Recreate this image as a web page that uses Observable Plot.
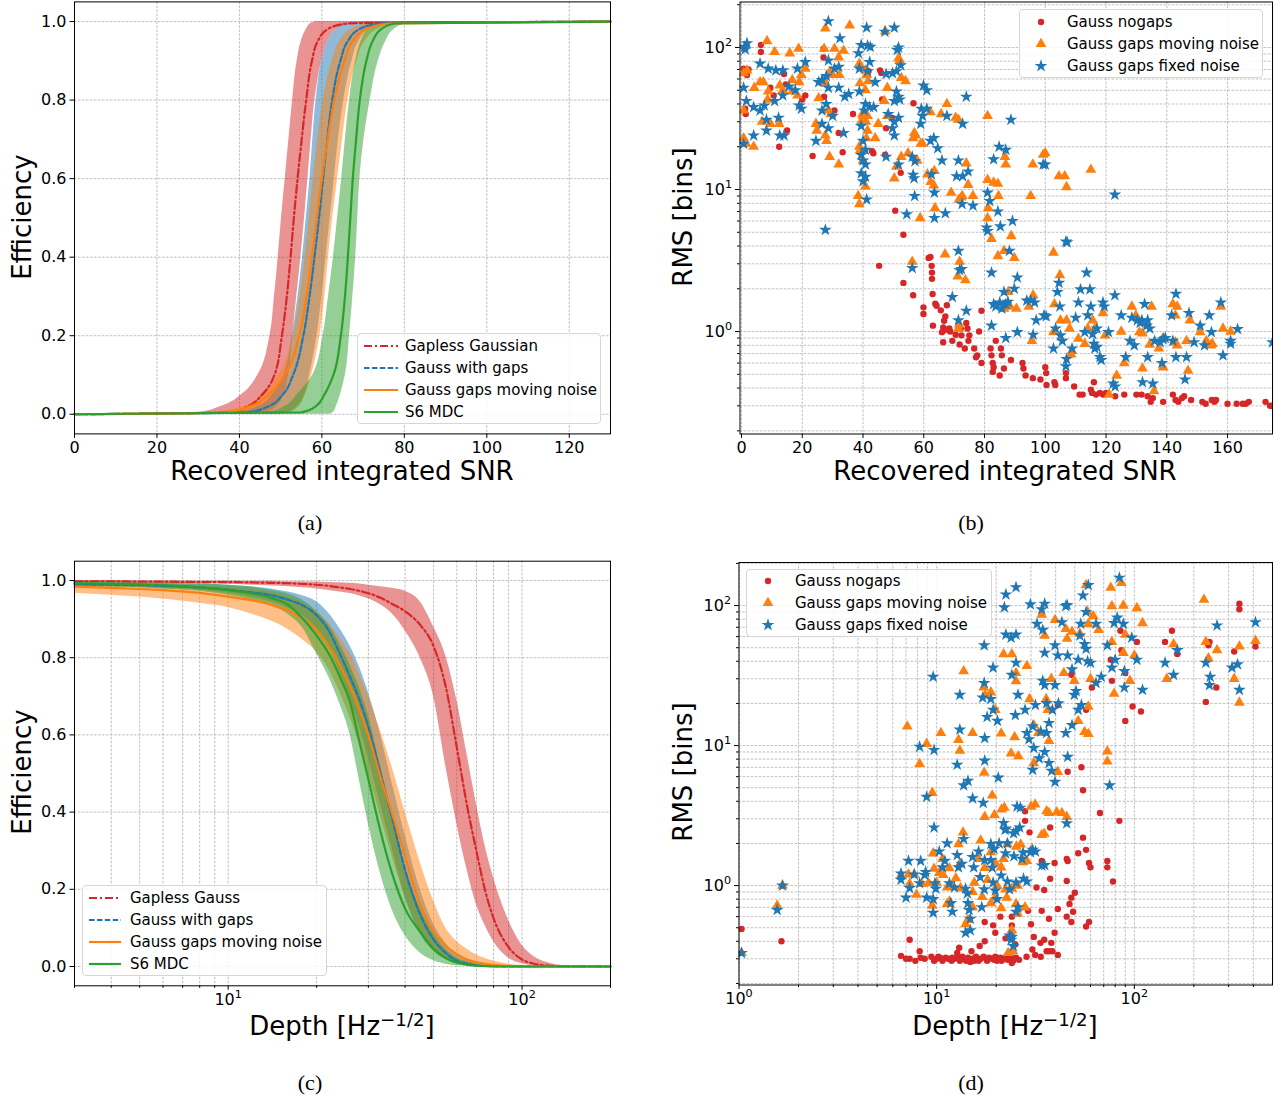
<!DOCTYPE html>
<html>
<head>
<meta charset="utf-8">
<script src="https://cdn.jsdelivr.net/npm/d3@7"></script>
<script src="https://cdn.jsdelivr.net/npm/@observablehq/plot@0.6"></script>
<style>
  body { margin: 0; background: #fff; }
  #page { position: relative; width: 1286px; height: 1104px; background: #fff; overflow: hidden;
          font-family: "DejaVu Sans", sans-serif; color: #000; }
  .title { position: absolute; font-size: 26px; white-space: nowrap; line-height: 1;
           transform: translate(-50%, -50%); }
  .title.rot { transform: translate(-50%, -50%) rotate(-90deg); }
  .title sup { font-size: 0.7em; vertical-align: 0.5em; line-height: 0; }
  .cap { position: absolute; font-family: "Liberation Serif", "DejaVu Serif", serif; font-size: 22px;
         line-height: 1; transform: translate(-50%, -50%); }
  .legend { position: absolute; box-sizing: border-box; border: 1px solid #d6d6d6; border-radius: 4px;
            background: rgba(255,255,255,0.85); font-size: 15px; }
  .legend .row { position: absolute; white-space: nowrap; line-height: 1; transform: translateY(-50%); }
  .legend svg { position: absolute; overflow: visible; }
</style>
</head>
<body>
<div id="page"></div>
<script>
// ---------------- (a) efficiency vs recovered integrated SNR ----------------
// Efficiency levels, and the SNR at which each curve (centre, left and right band edges) reaches them
const effLevels = [0, 0.005, 0.02, 0.05, 0.1, 0.2, 0.3, 0.4, 0.5, 0.6, 0.7, 0.8, 0.9, 0.95, 0.98, 0.995, 1];
const snrGaplessLo  = [0, 30, 35.5, 40.5, 44.5, 47.4, 48.5, 49.4, 50.2, 51.1, 52, 52.9, 54, 55, 56.2, 57.3, 58.5];
const snrGaplessMid = [0, 38, 42, 45.5, 48.5, 50.3, 51.5, 52.4, 53.2, 54.1, 55.1, 56.2, 57.6, 59, 61.3, 66, 130];
const snrGaplessHi  = [44, 46.5, 49, 50.8, 51.9, 52.9, 53.9, 54.9, 55.8, 56.6, 57.4, 58.3, 60, 61.5, 63.5, 68, 130];
const snrGapsLo  = [0, 38, 44.5, 48, 50.8, 52.8, 54.2, 55.3, 56.2, 57.1, 57.8, 58.6, 60, 61.5, 63.5, 67, 71];
const snrGapsMid = [0, 42, 47, 50.5, 53, 55.5, 57, 58.2, 59.3, 60.3, 61.3, 62.5, 64.5, 66.3, 69, 74, 130];
const snrGapsHi  = [50, 52, 54, 55.8, 57, 58.8, 60, 61, 62, 63, 64, 65.3, 67.3, 69, 71.5, 76, 130];
const snrMovingLo  = [0, 33, 41, 45.5, 49.5, 53, 54.7, 55.9, 56.9, 57.9, 59, 60.3, 62.5, 64.3, 67, 71.5, 76];
const snrMovingMid = [0, 37, 42.5, 47, 51, 54.5, 56.3, 57.6, 58.8, 60, 61.4, 63, 65.5, 67.5, 70.5, 76, 130];
const snrMovingHi  = [49, 52, 54.5, 56, 57.5, 59.5, 60.7, 61.6, 62.6, 63.8, 65, 66.3, 68.5, 70.5, 73.5, 78, 130];
const snrS6Lo  = [0, 47, 51, 54, 57.8, 60.3, 61.6, 62.8, 63.8, 64.8, 65.7, 66.7, 68.2, 69.5, 71.3, 74, 77];
const snrS6Mid = [0, 55, 58.5, 60.6, 62.8, 64.6, 65.6, 66.3, 66.9, 67.5, 68.3, 69.2, 70.8, 72.3, 74.3, 77.5, 130];
const snrS6Hi  = [62, 62.8, 63.5, 64.5, 65.7, 66.7, 67.5, 68.2, 68.7, 69.2, 70.2, 71.7, 73.7, 75.5, 77.5, 80.5, 130];

// ---------------- (c) efficiency vs depth ----------------
const depthGrid = [3, 4, 5, 6, 8, 10, 12, 14, 16, 18, 20, 22, 24, 26, 28, 30, 33, 36, 40, 45, 50, 55, 60, 65, 70, 75, 80, 90, 100, 110, 125, 150, 200];
const effGaplessMid = [0.998, 0.998, 0.997, 0.997, 0.996, 0.996, 0.995, 0.994, 0.993, 0.991, 0.989, 0.986, 0.982, 0.978, 0.973, 0.967, 0.955, 0.94, 0.92, 0.885, 0.83, 0.725, 0.567, 0.417, 0.298, 0.195, 0.125, 0.05, 0.018, 0.007, 0.002, 0.0005, 0];
const effGaplessLo  = [0.995, 0.995, 0.994, 0.993, 0.992, 0.99, 0.988, 0.986, 0.984, 0.981, 0.978, 0.974, 0.97, 0.966, 0.96, 0.953, 0.937, 0.915, 0.87, 0.8, 0.7, 0.52, 0.37, 0.25, 0.16, 0.105, 0.065, 0.022, 0.007, 0.002, 0.0005, 0, 0];
const effGaplessHi  = [1, 1, 0.999, 0.999, 0.999, 0.999, 0.998, 0.998, 0.997, 0.997, 0.996, 0.995, 0.994, 0.993, 0.991, 0.988, 0.984, 0.98, 0.972, 0.945, 0.88, 0.805, 0.69, 0.55, 0.42, 0.31, 0.23, 0.12, 0.055, 0.025, 0.008, 0.001, 0];
const effGapsMid = [0.99, 0.989, 0.988, 0.986, 0.982, 0.976, 0.969, 0.962, 0.95, 0.935, 0.91, 0.87, 0.81, 0.75, 0.69, 0.62, 0.5, 0.39, 0.25, 0.135, 0.07, 0.035, 0.015, 0.007, 0.003, 0.0015, 0.001, 0, 0, 0, 0, 0, 0];
const effGapsLo  = [0.985, 0.983, 0.982, 0.979, 0.975, 0.966, 0.956, 0.944, 0.928, 0.908, 0.875, 0.83, 0.76, 0.69, 0.62, 0.54, 0.42, 0.31, 0.18, 0.085, 0.04, 0.018, 0.007, 0.003, 0.001, 0, 0, 0, 0, 0, 0, 0, 0];
const effGapsHi  = [0.995, 0.994, 0.993, 0.992, 0.99, 0.988, 0.984, 0.978, 0.97, 0.96, 0.945, 0.915, 0.875, 0.83, 0.775, 0.71, 0.6, 0.48, 0.34, 0.2, 0.11, 0.06, 0.03, 0.016, 0.008, 0.004, 0.002, 0.001, 0, 0, 0, 0, 0];
const effMovingMid = [0.984, 0.981, 0.978, 0.975, 0.968, 0.958, 0.949, 0.937, 0.922, 0.9, 0.872, 0.83, 0.78, 0.725, 0.665, 0.6, 0.49, 0.4, 0.285, 0.16, 0.09, 0.053, 0.032, 0.018, 0.011, 0.007, 0.004, 0.0015, 0.0005, 0, 0, 0, 0];
const effMovingLo  = [0.967, 0.962, 0.957, 0.952, 0.941, 0.93, 0.913, 0.895, 0.873, 0.845, 0.815, 0.77, 0.71, 0.645, 0.575, 0.5, 0.39, 0.29, 0.18, 0.09, 0.045, 0.022, 0.01, 0.005, 0.002, 0.001, 0, 0, 0, 0, 0, 0, 0];
const effMovingHi  = [0.992, 0.991, 0.99, 0.989, 0.985, 0.982, 0.977, 0.969, 0.958, 0.943, 0.92, 0.89, 0.85, 0.81, 0.755, 0.7, 0.61, 0.52, 0.4, 0.27, 0.17, 0.1, 0.065, 0.045, 0.03, 0.021, 0.014, 0.006, 0.003, 0.001, 0, 0, 0];
const effS6Mid = [0.993, 0.992, 0.99, 0.988, 0.982, 0.975, 0.967, 0.955, 0.937, 0.9, 0.857, 0.81, 0.75, 0.685, 0.58, 0.485, 0.35, 0.245, 0.15, 0.09, 0.045, 0.022, 0.01, 0.005, 0.002, 0.001, 0, 0, 0, 0, 0, 0, 0];
const effS6Lo  = [0.985, 0.983, 0.981, 0.978, 0.972, 0.962, 0.95, 0.935, 0.912, 0.875, 0.81, 0.75, 0.68, 0.6, 0.48, 0.37, 0.24, 0.15, 0.08, 0.035, 0.015, 0.006, 0.002, 0.001, 0, 0, 0, 0, 0, 0, 0, 0, 0];
const effS6Hi  = [0.997, 0.996, 0.996, 0.995, 0.992, 0.988, 0.983, 0.975, 0.965, 0.948, 0.92, 0.885, 0.835, 0.78, 0.72, 0.65, 0.52, 0.4, 0.26, 0.15, 0.085, 0.045, 0.022, 0.012, 0.006, 0.003, 0.001, 0, 0, 0, 0, 0, 0];

// ---------------- (b) RMS vs recovered integrated SNR, [snr, rms] ----------------
const snrRmsNogaps = [[6.4,104],[6.4,93],[0.7,71],[2.3,70],[1.8,64],[1.4,34],[1.2,37],[9.5,52],[10.6,46],[14,65],[14.6,55],[15,26],[12.4,20],[20,43],[21,46],[27,98],[27.2,45],[27,85],[30.6,36],[32,25],[33.3,18.3],[23.4,17.2],[36.7,34],[41.8,68],[45.6,69],[46.3,43],[46,66],[43,18.6],[43.4,18],[47.3,17.6],[47.6,27],[49.4,32],[50.6,7.1],[52.4,13.1],[53.3,4.8],[56.6,40.5],[53.3,2.2],[45.3,2.9],[56.5,1.8],[61.6,3.3],[62.2,3.35],[62.6,2.9],[62.7,2.6],[62.7,2.35],[62.9,1.84],[59.9,1.48],[59.9,1.33],[63,1.1],[63.8,1.57],[64.2,1.52],[65.6,1.41],[66.7,1.19],[67.1,1.28],[67.6,1.53],[66.4,1.07],[67.3,1.03],[68.4,1.05],[68.7,1.0],[66,0.99],[66.4,0.84],[69.4,0.86],[70.5,0.95],[71.8,0.81],[72.2,1.05],[72.4,0.94],[73.5,0.76],[74,1.15],[74.4,1.05],[75,0.94],[74.7,0.86],[76.6,0.76],[77.6,0.68],[77.2,0.66],[79,0.6],[78.2,1.0],[79,1.4],[82,0.76],[82.3,0.68],[82.7,0.6],[83,0.56],[82.7,0.52],[83.7,0.86],[85.4,0.76],[85.7,0.68],[85,0.49],[86.4,0.55],[88.7,0.63],[92.5,0.6],[92.8,0.55],[93.5,0.49],[95.9,0.47],[98.4,0.46],[100,0.56],[100.3,0.51],[100.4,0.42],[103,0.44],[103.3,0.42],[106.8,0.51],[106.8,0.47],[109.5,0.41],[111.3,0.36],[112.3,0.36],[115,0.39],[115.4,0.37],[116,0.44],[116.7,0.36],[118,0.37],[119,0.36],[120,0.37],[123,0.35],[126,0.36],[130,0.36],[131.7,0.36],[133.7,0.35],[134.7,0.32],[135.4,0.34],[138.8,0.32],[142,0.36],[142.9,0.33],[143.8,0.32],[145,0.34],[145.7,0.35],[148,0.33],[151.7,0.32],[152.8,0.31],[154.8,0.33],[155.7,0.32],[156.2,0.33],[160,0.31],[163,0.31],[165,0.31],[166,0.31],[167,0.32],[172.5,0.32],[174,0.3],[174.6,0.3]];
const snrRmsMoving = [[8.4,111],[10.9,93],[15.9,91],[18.8,98],[0.7,66],[1.8,69],[4.2,52],[6.1,57],[7.2,57],[8.8,49],[8.6,43],[0.7,36],[0.7,23],[4,20],[1.5,21],[6.8,30],[9.5,29],[12.4,29],[12.6,54],[13.6,50],[16.7,59],[19,57],[19.7,64],[18.4,46],[16.7,49],[21,71],[25.4,44],[24.5,29],[24.8,26],[28,22],[29,17],[32,15],[27.2,98],[27.6,136],[30.6,98],[35.6,143],[33.6,95],[32,85],[29,67],[30,64],[32.2,64],[27.2,56],[27.2,59],[28.6,36],[29.5,34],[27.6,24],[38.8,77],[39,56],[40.8,69],[41.2,64],[41.7,58],[40.8,50],[39.8,34],[40,33],[41.5,33],[39.4,30],[41,30],[41.5,26],[41.1,23],[44,23],[45,29],[38.8,20],[39.1,19],[40,16],[38.4,9],[38.8,7.9],[40.8,10.5],[48,52],[47,42],[48,33],[47.3,130],[51.7,84],[52.1,81],[52.6,61],[54,58],[51,14.5],[50.3,12],[52.6,17],[56.9,25],[57.3,24],[56.5,23],[59,21],[59.6,21],[54.8,18],[57.8,16],[58.8,6.3],[62.2,35],[65.7,34],[67.6,40],[61.2,12.8],[62.3,11.3],[63.5,13.5],[63.3,10.7],[63.7,7.4],[69,9.5],[70.5,32],[71.4,31],[71.6,8.5],[72.3,8.8],[72.7,9],[74,15.3],[74.6,10.8],[76.2,9],[81,33],[81,11.7],[83,11.2],[84.4,11],[81.2,7.4],[81,6.3],[84.6,9],[82.3,4.5],[84.4,3.4],[86.4,3.7],[88.8,4.7],[89.8,3.3],[86.7,17],[87,15],[56.2,3.1],[67,3.5],[71.8,3.1],[71.2,2.45],[73.7,2.3],[71.4,1.05],[71.7,1.12],[95.9,15],[95.2,9],[99.3,17.6],[100,18],[104.5,12.4],[106.4,12.4],[107,10.4],[115,13.8],[102.7,3.6],[104.8,2.5],[87.8,1.9],[86.4,1.45],[88.4,1.5],[90.5,1.45],[94.6,1.5],[96,1.8],[95.6,0.86],[102.7,0.99],[103,1.56],[105,1.2],[107,1.2],[108,1.05],[110.9,0.89],[113,0.82],[114,1.05],[115.6,1.2],[116.3,1.05],[119,1.35],[108.8,0.73],[108.5,0.69],[119.7,0.94],[121,0.36],[123.5,0.49],[125,1.0],[126,0.6],[128.5,1.5],[129.8,1.3],[131,0.99],[132,0.97],[134.4,0.81],[135,1.5],[132,0.55],[135.8,0.38],[137.4,0.76],[138.8,0.56],[142,1.56],[143.4,1.5],[142.8,0.84],[143.4,0.8],[146.5,0.86],[147,0.53],[147.6,1.2],[151,0.99],[153,0.86],[154.5,0.8],[155,0.82],[157.8,1.5],[158.5,1.05],[161,1.0],[142.8,1.3],[138.8,0.9]];
const snrRmsFixed = [[1,101],[1.8,107],[0.7,52],[0.7,21],[1.2,97],[6.1,77],[8.8,71],[11.3,69],[13.6,69],[1.6,42],[4,38],[6.1,36],[7.5,39],[8.2,31],[10.9,42],[4,24],[8.2,26],[12.2,32],[12.6,24],[14,24],[15.6,53],[17.7,50],[13.6,46],[18.4,71],[21,79],[19,39],[19.7,37],[25.4,57],[26.5,59],[28.6,52],[27.9,63],[24.5,22],[26.5,36],[27.9,40],[26.5,29],[28.6,27],[30,33],[28.6,153],[32.4,116],[32,73],[30.6,71],[28.6,81],[27.6,5.2],[32,52],[34,45],[35.3,47],[33.6,25],[38.5,91],[39.4,104],[41.2,138],[41.5,103],[42.4,101],[38.8,71],[42.2,79],[41.5,68],[44,57],[38.8,49],[40.8,40],[40.4,36],[42.2,38],[43.5,38],[39.4,28],[40,22],[40.8,19],[40,16],[40.8,15],[39.4,13],[40.8,12.3],[40,11.4],[41.2,8.5],[39.4,17.5],[47.2,129],[50.3,138],[51.3,96],[51.7,100],[47.6,65],[49.7,66],[51,68],[52.4,75],[51,49],[51.7,45],[52.1,43],[50.3,42],[48.3,34],[51.7,32],[50.3,30],[49.7,27],[50.3,24],[47.6,17],[51.7,15],[56.2,17],[57.1,15.8],[56.5,12.7],[56.8,12],[57,9],[54.4,6.7],[56.2,2.8],[59.9,54],[61,50],[59.2,37],[61,37],[59,29],[59.6,33],[62.2,22],[63.3,23],[64.6,19.5],[66,16],[62.5,12.8],[63.5,9.5],[63.5,6.3],[67.1,6.8],[67.6,33],[72.8,29],[71.4,16],[72.8,12.4],[74.6,13.4],[70.8,12.4],[72.6,7.9],[76.2,7.7],[74,45],[71.4,3.7],[71.8,2.7],[72.4,2.75],[71.4,1.2],[69.4,1.75],[74,1.4],[83,16.3],[84.8,20],[87,19],[81,9.5],[81.7,8.3],[84.4,7],[80.7,5.4],[81,5.1],[85.2,5.5],[89.2,6],[88.7,31],[82.3,2.6],[88.2,3.7],[90.8,2.4],[89.8,2.0],[83,1.56],[85,1.6],[86.4,1.9],[87,1.56],[87.7,1.62],[85.7,1.45],[82.3,1.1],[83.7,1.5],[87,0.9],[90.8,0.99],[93.9,1.65],[95.2,1.66],[96.5,1.6],[96,0.95],[97,1.2],[99.6,1.3],[100.3,1.28],[99.3,15],[100,15],[102.7,0.76],[103.4,1.05],[104,1.9],[104.8,1.5],[104.5,2.2],[106.8,4.3],[107.2,4.25],[106.8,0.57],[107,0.64],[105,0.94],[105.6,0.86],[108.8,0.76],[110,1.25],[110.9,1.6],[111.6,1.98],[113.6,2.6],[114.7,1.98],[113,0.99],[114,1.3],[115,1.5],[115.6,0.96],[116,0.82],[116.3,0.76],[117,0.78],[118,0.66],[118.4,0.63],[117,1.05],[119,1.6],[119.4,1.5],[120.8,0.99],[122.9,1.8],[122.9,9.2],[122.4,0.43],[123,0.41],[125,1.3],[126.5,0.66],[127.9,0.86],[128.5,1.25],[129.3,0.8],[130.3,1.2],[131.2,1.15],[131.8,1.2],[132.7,1.56],[133.4,1.1],[133.7,1.2],[134.4,1.05],[132,0.44],[133.7,0.66],[135.4,0.43],[136,0.86],[137.8,0.84],[138.8,0.88],[139.5,0.9],[138.4,0.6],[141.6,1.3],[143,1.84],[142,0.86],[143,0.66],[146.5,0.66],[146,0.46],[147.3,1.35],[149,0.84],[151,1.1],[152.4,0.8],[154,1.3],[154.7,0.99],[157.8,1.6],[158.5,0.68],[161,0.86],[161,0.82],[163.3,1.04],[174.8,0.84]];

// ---------------- (d) RMS vs depth, [depth, rms] ----------------
const depthRmsNogaps = [[1.03,0.49],[1.64,0.4],[340,103],[340,94],[410,51],[320,47],[240,55],[237,52],[260,26],[230,20.5],[155,66],[143,55],[165,45],[103,55],[90,33],[98,19],[108,17.5],[90,15],[86,48],[77,29],[76,41],[85,66],[61,26],[57,18],[48,32],[41,19.5],[38,18],[46,6.5],[54,7],[55,4.8],[67,3.3],[84,2.9],[37.5,2.6],[29.5,2.4],[28,3.4],[28,2.9],[55,2.2],[57,1.8],[52,1.7],[59,1.45],[60,1.35],[73,1.5],[73,1.35],[78,1.07],[45.5,1.55],[46,1.5],[39.5,1.45],[34,1.5],[37.5,1.12],[45.5,1.08],[32,0.97],[35,0.93],[50,0.89],[48,0.82],[47,0.74],[49,0.65],[45.5,0.6],[48,0.55],[57,0.51],[59,0.55],[41,0.68],[37,0.58],[34,0.66],[30,0.53],[29,0.66],[24,0.6],[39.5,0.46],[35,0.41],[38,0.39],[38.5,0.34],[41,0.32],[31,0.43],[33.5,0.39],[30.5,0.35],[36,0.34],[21,0.6],[24,0.52],[24,0.43],[25,0.38],[17.5,0.55],[19.3,0.52],[19.8,0.46],[17.5,0.4],[16.5,0.37],[15,0.34],[13,0.36],[12.7,0.33],[7.3,0.41],[8.2,0.34],[22.3,0.42],[6.6,0.315],[7,0.3],[7.3,0.3],[7.8,0.29],[8.3,0.305],[8.7,0.3],[9.4,0.31],[9.7,0.29],[10,0.3],[10.4,0.305],[10.7,0.29],[11.1,0.305],[11.4,0.3],[11.9,0.29],[12.3,0.3],[12.8,0.31],[13.1,0.29],[13.6,0.3],[14.1,0.29],[14.4,0.305],[14.8,0.285],[15.2,0.3],[15.8,0.31],[16.3,0.29],[16.7,0.3],[17.3,0.31],[17.9,0.295],[18.4,0.305],[19.1,0.3],[19.8,0.31],[20.2,0.29],[21,0.305],[21.7,0.3],[22.5,0.31],[23.4,0.3],[24.4,0.29],[25.2,0.305],[26.1,0.295],[24,0.28],[28.5,0.31],[31.5,0.32],[33.6,0.31],[37,0.34],[13.5,0.31],[14.6,0.295],[15.5,0.29],[18,0.29],[19.5,0.295],[21.3,0.29],[22.9,0.295],[12,0.305],[10.2,0.31],[16,0.3],[20.6,0.3],[23.8,0.31]];
const depthRmsMoving = [[1.03,0.33],[1.56,0.72],[1.66,1.0],[7.1,13.7],[8.9,10.3],[10.5,12.3],[8.2,7.4],[9.5,4.6],[12.9,11],[13.1,9.2],[13.7,34],[15.2,12.3],[17.3,26],[17.6,23],[17.4,6.4],[17.5,3.1],[18.8,24],[19.1,4.4],[19.8,18],[19.6,3.2],[21.2,12.2],[21.8,45],[24,45],[23.8,8.8],[25.2,33],[25.2,28.8],[25.9,8.4],[24.8,11.5],[22,3.6],[28.6,37],[29.5,21.5],[31,14],[31,7.5],[31.5,3.8],[32.7,12.3],[34,86],[35.2,61],[35.8,21.5],[36.5,18],[37,10.8],[38,30],[35,2.35],[37,3.3],[39.7,79],[41,6.5],[43,3.3],[44,33],[45,68],[45.7,58],[48.4,65],[49.7,29],[52,15],[53,63],[57,140],[58,90],[58.5,74],[60,30],[58.5,19],[56,12.5],[58.5,12.1],[62,84],[66,67],[73,9.1],[73,7.7],[76,134],[77,99],[77,55],[79,23.5],[86,145],[88,100],[90,62],[88,46],[95,29],[103,96],[110,75],[100,44],[146,30],[158,53],[225,110],[237,42],[230,55],[262,48],[320,30],[340,51],[340,20.3],[410,56],[6.6,1.18],[7.2,1.2],[7.3,1.03],[7.9,0.86],[8.4,1.03],[9.6,1.7],[9.7,1.32],[10.3,1.23],[10,1.05],[10.7,1.55],[10.8,1.19],[11.6,0.77],[11.3,0.97],[11.9,0.98],[12.5,1.13],[13.1,1.43],[13.2,0.96],[12.9,1.98],[13.6,2.4],[14,0.53],[14.4,0.57],[15.2,0.9],[15.5,1.05],[16.3,1.55],[16.7,2.1],[17,0.83],[17.5,1.34],[18.1,1.1],[18.8,1.73],[18.8,0.75],[19.8,0.82],[19.8,1.45],[20.2,1.0],[21.2,0.69],[21.2,1.35],[21.8,1.55],[22.8,1.98],[22.3,0.94],[24,0.95],[24,0.48],[24.3,0.34],[25.2,0.74],[25.7,1.0],[26.6,1.97],[28.6,1.5],[30.2,1.8],[25.7,0.63],[28,0.7],[11.3,0.74],[15.2,0.7],[9.1,1.04],[9.5,0.72],[7.7,1.2],[11.6,1.33],[30,3.67],[36,3.4],[40.5,3.34],[45.5,3.1],[34,2.3],[21.3,3.5],[25.3,1.9],[27.4,1.47],[22.6,0.82],[23,0.33]];
const depthRmsFixed = [[1.03,0.33],[1.56,0.67],[1.66,1.0],[9.6,31],[8.2,9.8],[9.7,9.3],[8.9,4.3],[9.7,2.6],[12.7,7.3],[13.1,23],[13.1,13],[13.7,5.2],[14.4,5.6],[15.2,4.2],[17.2,3.9],[17.4,52],[17.4,28],[17.1,22],[18,16],[17.5,11.3],[17.5,7.8],[18.8,21.5],[19.3,36],[19.3,18],[20.3,15],[20.5,5.9],[22,97],[22.4,120],[22.4,62],[23.8,59],[24,32],[25.2,39],[25.2,62],[25.2,135],[25.8,23],[25,16.5],[28,18],[28.6,12.3],[29.3,11.1],[29.8,102],[30.6,13.7],[31,9.6],[30.6,6.7],[31.6,19.5],[32.2,74],[33,8.1],[33.6,12.6],[34,94],[34.4,67],[34.4,29],[35.2,27],[35.2,46],[35.2,103],[36,20],[37,14.5],[36,12.3],[37,7.5],[35.2,9],[39.7,52],[39.7,27],[41,44],[38.5,18],[41.3,20],[39.7,5.5],[38.2,6.6],[43,76],[45,99],[45.7,101],[46,44],[45,12.3],[46,8.3],[48.4,35],[49.7,23],[50.7,24.5],[48.4,14],[52,41],[53,61],[53.6,74],[55,118],[57,90],[56,53],[57,49],[58,40],[60,39],[52,18],[54,19.5],[58.5,140],[64,74],[64,28],[68,31],[73,52],[75,5.2],[77,36],[79,75],[80,41],[82,82],[84,158],[88,74],[89,26],[89,34],[97,59],[103,41],[110,25],[143,39],[158,32],[165,48],[230,39],[240,27],[242,31],[262,72],[312,36],[333,38],[340,25],[410,76],[6.6,1.22],[6.6,1.1],[7.2,1.5],[7.3,0.96],[7,0.82],[7.7,1.2],[8.3,1.5],[8.2,1.04],[8.7,1.19],[8.8,1.25],[8.9,0.82],[9.6,0.8],[9.6,0.64],[9.8,1.04],[9.9,0.95],[10.3,1.75],[10.7,1.35],[11,1.5],[11.3,2.0],[11.6,1.04],[11.8,0.75],[12,0.65],[12.3,0.97],[12.7,1.65],[12.9,1.35],[13.4,1.43],[13.7,2.15],[14,0.95],[14.3,0.88],[14.4,0.75],[14.6,0.67],[14.8,0.58],[14,0.46],[14.8,0.48],[15.2,1.6],[15.4,1.35],[16.3,1.75],[16.6,1.15],[16.9,0.7],[17.4,0.94],[17.5,1.52],[18.8,1.98],[18.8,1.52],[19.1,1.34],[19.3,1.05],[19.8,0.92],[20.2,0.8],[19.5,1.82],[20.7,2.0],[21.2,1.18],[21.8,2.8],[22.3,1.7],[22.8,1.07],[22.8,2.0],[23.4,0.94],[23.4,0.44],[23.8,0.41],[24,0.43],[24.4,0.37],[24.6,1.62],[25.2,2.45],[25.2,1.05],[25.2,0.65],[25.8,0.7],[26.3,2.6],[27,1.55],[27.4,1.72],[28.6,1.07],[30.6,1.8],[31.6,1.75],[35.2,1.4],[26.5,3.6],[22.4,2.55],[25.5,3.67],[45.5,2.78],[22.2,2.5],[24.5,2.36],[29.8,1.73],[34,1.39],[27.5,1.12]];

// ---------------- ticks ----------------
const snrTicksA = [0, 20, 40, 60, 80, 100, 120];
const snrTicksB = [0, 20, 40, 60, 80, 100, 120, 140, 160];
const effTicks = [0, 0.2, 0.4, 0.6, 0.8, 1.0];
const decadesRms = [1, 10, 100];
const minorRms = [0.2, 0.3, 0.4, 0.5, 0.6, 0.7, 0.8, 0.9, 2, 3, 4, 5, 6, 7, 8, 9, 20, 30, 40, 50, 60, 70, 80, 90, 200];
const decadesDepthC = [10, 100];
const minorDepthC = [3, 4, 5, 6, 7, 8, 9, 20, 30, 40, 50, 60, 70, 80, 90, 200];
const decadesDepthD = [1, 10, 100];
const minorDepthD = [2, 3, 4, 5, 6, 7, 8, 9, 20, 30, 40, 50, 60, 70, 80, 90, 200, 300, 400];

// ---------------- drawing ----------------
const page = document.getElementById("page");
const NS = "http://www.w3.org/2000/svg";
const C = {red: "#d62728", blue: "#1f77b4", orange: "#ff7f0e", green: "#2ca02c"};
const DASHDOT = "8,3,2,3", DASHED = "5.5,2.4";
const R = {circle: 3.2, triangle: 4.0, star: 4.0};
const gridStyle = {stroke: "#b0b0b0", strokeOpacity: 1, strokeWidth: 0.8, strokeDasharray: "2.6,1.4"};
const SUP = ["\u2070", "\u00b9", "\u00b2"];
const logFmt = d => "10" + SUP[Math.round(Math.log10(d))];
const blank = () => "";

function axisMarks({xMajor, xMinor, xFmt, yMajor, yMinor, yFmt}) {
  const common = {fontSize: 16, label: null, stroke: "#000", strokeWidth: 1, fill: "#000"};
  const m = [
    Plot.axisX(xMajor, {anchor: "bottom", tickSize: 4.5, tickPadding: 3.5, tickFormat: xFmt, ...common}),
    Plot.axisY(yMajor, {anchor: "left", tickSize: 4.5, tickPadding: 3.5, tickFormat: yFmt, ...common})
  ];
  if (xMinor) m.push(Plot.axisX(xMinor, {anchor: "bottom", tickSize: 2.5, tickFormat: blank, ...common}));
  if (yMinor) m.push(Plot.axisY(yMinor, {anchor: "left", tickSize: 2.5, tickFormat: blank, ...common}));
  return m;
}

// Power-of-ten tick labels: set the exponent as a raised, smaller tspan
function raiseExponents(svg) {
  svg.querySelectorAll("text").forEach(t => {
    const m = t.textContent.match(/^10([\u2070\u00b9\u00b2])$/);
    if (!m) return;
    t.textContent = "10";
    const ts = document.createElementNS(NS, "tspan");
    ts.setAttribute("dy", "-0.62em");
    ts.style.fontSize = "70%";
    ts.textContent = String(SUP.indexOf(m[1]));
    t.appendChild(ts);
  });
}

function place(el, left, top) {
  el.style.position = "absolute";
  el.style.left = left + "px";
  el.style.top = top + "px";
  page.appendChild(el);
  return el;
}

function makePlot(o) {
  const svg = Plot.plot({
    width: o.width, height: o.height,
    marginLeft: o.ml, marginRight: o.mr, marginTop: o.mt, marginBottom: o.mb,
    x: {type: o.xType, domain: o.xDomain, label: null},
    y: {type: o.yType, domain: o.yDomain, label: null},
    style: {fontFamily: "DejaVu Sans", fontSize: "16px", background: "transparent", overflow: "visible", color: "#000"},
    marks: [
      Plot.gridX(o.xGrid, gridStyle),
      Plot.gridY(o.yGrid, gridStyle),
      ...o.marks,
      Plot.frame({stroke: "#000", strokeWidth: 1}),
      ...axisMarks(o.axes)
    ]
  });
  raiseExponents(svg);
  return place(svg, o.left, o.top);
}

const pts = arr => arr.map(([x, y]) => ({x, y}));
const scatterMarks = (nogaps, moving, fixed) => [
  Plot.dot(pts(nogaps), {x: "x", y: "y", r: R.circle, fill: C.red, stroke: "none", clip: true}),
  Plot.dot(pts(moving), {x: "x", y: "y", r: R.triangle, symbol: "triangle", fill: C.orange, stroke: "none", clip: true}),
  Plot.dot(pts(fixed), {x: "x", y: "y", r: R.star, symbol: "star", fill: C.blue, stroke: "none", clip: true})
];

// (a) efficiency vs SNR
const seriesA = [
  {color: C.red, dash: DASHDOT, lo: snrGaplessLo, mid: snrGaplessMid, hi: snrGaplessHi},
  {color: C.blue, dash: DASHED, lo: snrGapsLo, mid: snrGapsMid, hi: snrGapsHi},
  {color: C.orange, dash: null, lo: snrMovingLo, mid: snrMovingMid, hi: snrMovingHi},
  {color: C.green, dash: null, lo: snrS6Lo, mid: snrS6Mid, hi: snrS6Hi}
].map(s => ({...s, rows: effLevels.map((e, i) => ({eff: e, lo: s.lo[i], mid: s.mid[i], hi: s.hi[i]}))}));

makePlot({
  left: 0, top: 0, width: 640, height: 500, ml: 74, mr: 30, mt: 1.4, mb: 66.6,
  xType: "linear", xDomain: [0, 130], yType: "linear", yDomain: [-0.05, 1.05],
  xGrid: snrTicksA, yGrid: effTicks,
  marks: [
    ...seriesA.map(s => Plot.areaX(s.rows, {y: "eff", x1: "lo", x2: "hi", fill: s.color, fillOpacity: 0.5, curve: "monotone-y"})),
    ...seriesA.map(s => Plot.line(s.rows, {x: "mid", y: "eff", stroke: s.color, strokeWidth: 2.2, strokeDasharray: s.dash, curve: "monotone-y"}))
  ],
  axes: {xMajor: snrTicksA, xFmt: d => String(d), yMajor: effTicks, yFmt: d => d.toFixed(1)}
});

// (b) RMS vs SNR
makePlot({
  left: 640, top: 0, width: 646, height: 500, ml: 99.5, mr: 14, mt: 1.5, mb: 66.5,
  xType: "linear", xDomain: [-0.5, 174.8], yType: "log", yDomain: [0.19, 209],
  xGrid: snrTicksB, yGrid: [...decadesRms, ...minorRms],
  marks: scatterMarks(snrRmsNogaps, snrRmsMoving, snrRmsFixed),
  axes: {xMajor: snrTicksB, xFmt: d => String(d), yMajor: decadesRms, yMinor: minorRms, yFmt: logFmt}
});

// (c) efficiency vs depth
const seriesC = [
  {color: C.red, dash: DASHDOT, lo: effGaplessLo, mid: effGaplessMid, hi: effGaplessHi},
  {color: C.blue, dash: DASHED, lo: effGapsLo, mid: effGapsMid, hi: effGapsHi},
  {color: C.orange, dash: null, lo: effMovingLo, mid: effMovingMid, hi: effMovingHi},
  {color: C.green, dash: null, lo: effS6Lo, mid: effS6Mid, hi: effS6Hi}
].map(s => ({...s, rows: depthGrid.map((d, i) => ({d, lo: s.lo[i], mid: s.mid[i], hi: s.hi[i]}))}));

makePlot({
  left: 0, top: 550, width: 640, height: 500, ml: 74, mr: 30, mt: 10.7, mb: 64.7,
  xType: "log", xDomain: [3, 200], yType: "linear", yDomain: [-0.05, 1.05],
  xGrid: [...decadesDepthC, ...minorDepthC], yGrid: effTicks,
  marks: [
    ...seriesC.map(s => Plot.areaY(s.rows, {x: "d", y1: "lo", y2: "hi", fill: s.color, fillOpacity: 0.5, curve: "monotone-x"})),
    ...seriesC.map(s => Plot.line(s.rows, {x: "d", y: "mid", stroke: s.color, strokeWidth: 2.2, strokeDasharray: s.dash, curve: "monotone-x"}))
  ],
  axes: {xMajor: decadesDepthC, xMinor: minorDepthC, xFmt: logFmt, yMajor: effTicks, yFmt: d => d.toFixed(1)}
});

// (d) RMS vs depth
makePlot({
  left: 640, top: 550, width: 646, height: 500, ml: 98.5, mr: 14, mt: 12, mb: 65.5,
  xType: "log", xDomain: [1, 500], yType: "log", yDomain: [0.195, 203],
  xGrid: [...decadesDepthD, ...minorDepthD], yGrid: [...decadesRms, ...minorRms],
  marks: scatterMarks(depthRmsNogaps, depthRmsMoving, depthRmsFixed),
  axes: {xMajor: decadesDepthD, xMinor: minorDepthD, xFmt: logFmt, yMajor: decadesRms, yMinor: minorRms, yFmt: logFmt}
});

// ---------------- titles, captions, legends ----------------
function html(cls, x, y, content) {
  const d = document.createElement("div");
  d.className = cls;
  d.innerHTML = content;
  d.style.left = x + "px";
  d.style.top = y + "px";
  page.appendChild(d);
}
html("title rot", 22, 217, "Efficiency");
html("title", 342, 471, "Recovered integrated SNR");
html("title rot", 683, 217, "RMS [bins]");
html("title", 1005, 471, "Recovered integrated SNR");
html("title rot", 22, 772, "Efficiency");
html("title", 342, 1026, "Depth [Hz<sup>\u22121/2</sup>]");
html("title rot", 683, 772, "RMS [bins]");
html("title", 1005, 1026, "Depth [Hz<sup>\u22121/2</sup>]");
html("cap", 310, 523, "(a)");
html("cap", 971, 523, "(b)");
html("cap", 310, 1083, "(c)");
html("cap", 971, 1083, "(d)");

function legend(box, entries, opts) {
  const L = document.createElement("div");
  L.className = "legend";
  Object.assign(L.style, {left: box[0] + "px", top: box[1] + "px", width: box[2] + "px", height: box[3] + "px"});
  entries.forEach((e, i) => {
    const cy = opts.first + i * opts.step;
    const svg = document.createElementNS(NS, "svg");
    svg.setAttribute("width", 1); svg.setAttribute("height", 1);
    svg.style.left = "0px"; svg.style.top = cy + "px";
    if (e.kind === "line") {
      const ln = document.createElementNS(NS, "line");
      ln.setAttribute("x1", opts.x0); ln.setAttribute("x2", opts.x1);
      ln.setAttribute("y1", 0); ln.setAttribute("y2", 0);
      ln.setAttribute("stroke", e.color); ln.setAttribute("stroke-width", 2.2);
      if (e.dash) ln.setAttribute("stroke-dasharray", e.dash);
      svg.appendChild(ln);
    } else {
      const p = document.createElementNS(NS, "path");
      const type = {circle: d3.symbolCircle, triangle: d3.symbolTriangle, star: d3.symbolStar}[e.kind];
      p.setAttribute("d", d3.symbol(type, Math.PI * R[e.kind] * R[e.kind])());
      p.setAttribute("transform", `translate(${opts.mx},0)`);
      p.setAttribute("fill", e.color);
      svg.appendChild(p);
    }
    L.appendChild(svg);
    const t = document.createElement("div");
    t.className = "row";
    t.textContent = e.label;
    t.style.left = opts.tx + "px";
    t.style.top = cy + "px";
    L.appendChild(t);
  });
  page.appendChild(L);
}
const lineEntries = names => [
  {kind: "line", color: C.red, dash: DASHDOT, label: names[0]},
  {kind: "line", color: C.blue, dash: DASHED, label: names[1]},
  {kind: "line", color: C.orange, label: names[2]},
  {kind: "line", color: C.green, label: names[3]}
];
const markerEntries = [
  {kind: "circle", color: C.red, label: "Gauss nogaps"},
  {kind: "triangle", color: C.orange, label: "Gauss gaps moving noise"},
  {kind: "star", color: C.blue, label: "Gauss gaps fixed noise"}
];
legend([357, 333, 244, 91], lineEntries(["Gapless Gaussian", "Gauss with gaps", "Gauss gaps moving noise", "S6 MDC"]),
       {first: 12, step: 22, x0: 6, x1: 40, tx: 47});
legend([82, 885, 245, 91], lineEntries(["Gapless Gauss", "Gauss with gaps", "Gauss gaps moving noise", "S6 MDC"]),
       {first: 12, step: 22, x0: 6, x1: 38, tx: 47});
legend([1019, 9, 244, 69], markerEntries, {first: 12, step: 22, mx: 21, tx: 47});
legend([746, 569, 246, 68], markerEntries, {first: 11, step: 22, mx: 21, tx: 48});
</script>
</body>
</html>
